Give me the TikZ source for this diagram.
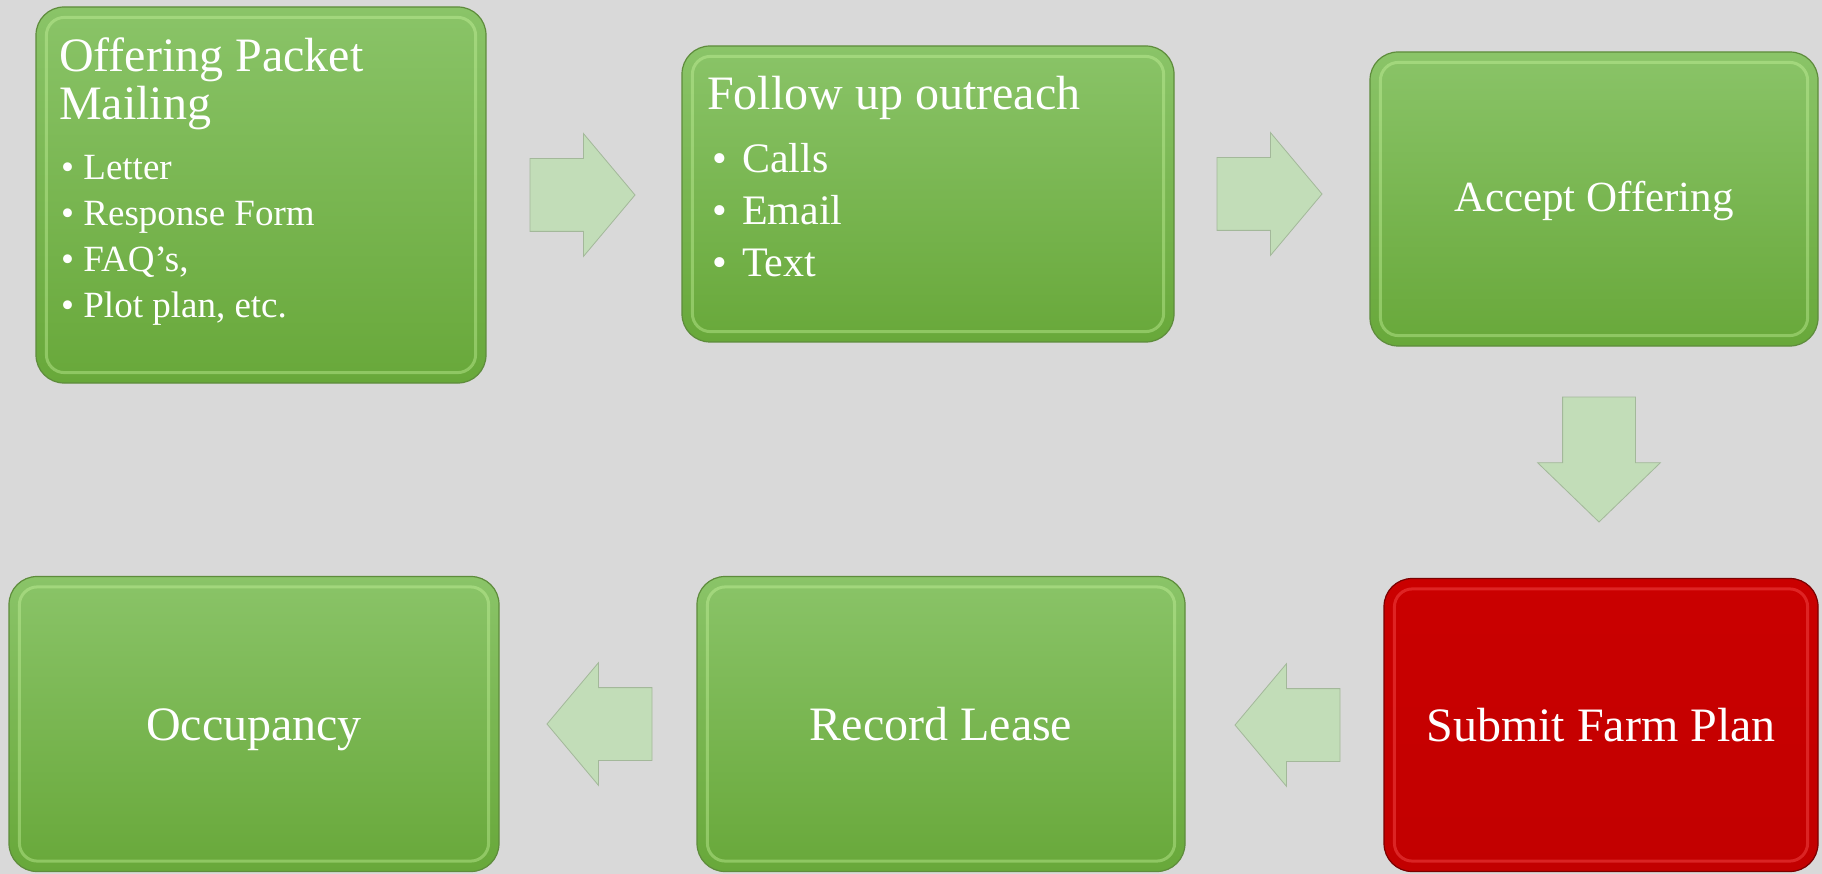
\documentclass[tikz,border=0pt]{standalone}
\usepackage{fontspec}
\setmainfont{Liberation Serif}
\usepackage{xcolor}
\usepackage{tikz}
\usetikzlibrary{calc,shapes.arrows}

\definecolor{bggray}{HTML}{D9D9D9}
\definecolor{gtop}{HTML}{8AC468}
\definecolor{gbot}{HTML}{68A83A}
\definecolor{gedge}{HTML}{5E8C3C}
\definecolor{ghi}{HTML}{C9F59F}
\definecolor{rtop}{HTML}{CA0000}
\definecolor{rbot}{HTML}{C20000}
\definecolor{redge}{HTML}{7A0000}
\definecolor{rhi}{HTML}{FF5A5A}
\definecolor{afill}{HTML}{C2DDB8}
\definecolor{aedge}{HTML}{A3B89A}

\begin{document}
\begin{tikzpicture}[x=1pt,y=-1pt,
	box/.style={rectangle,rounded corners=28pt,draw=gedge,line width=1.2pt,
		top color=gtop,bottom color=gbot,text=white,align=center,
		font=\fontsize{48}{50}\selectfont,text height=34pt,text depth=2pt},
	redstep/.style={box,draw=redge,top color=rtop,bottom color=rbot},
	bevel/.style={rounded corners=18pt,line width=3pt,draw opacity=0.4},
	flow/.style={shape=single arrow,fill=afill,draw=aedge,line width=0.8pt,
		inner xsep=0pt,inner ysep=36pt,single arrow head extend=25pt,
		single arrow tip angle=100,minimum height=105pt,anchor=tail},
	ttl/.style={text=white,font=\fontsize{48}{50}\selectfont,inner sep=0pt,anchor=base west},
	item/.style={text=white,inner sep=0pt,anchor=base west}]
	
	\fill[bggray] (0,0) rectangle (1822,874);
	\useasboundingbox (0,0) rectangle (1822,874);
	
	% top row
	\node[box,minimum width=450pt,minimum height=376pt] (mail) at (261,195) {};
	\node[box,minimum width=492pt,minimum height=296pt] (follow) at (928,194) {};
	\node[box,minimum width=448pt,minimum height=294pt,
		font=\fontsize{43}{45}\selectfont,text height=30pt,text depth=4pt] (acc) at (1594,199) {Accept Offering};
	
	% bottom row
	\node[redstep,minimum width=434pt,minimum height=293pt] (plan) at (1601,725) {Submit Farm Plan};
	\node[box,minimum width=488pt,minimum height=295pt] (lease) at (941,724) {Record Lease};
	\node[box,minimum width=490pt,minimum height=295pt] (occ) at (254,724) {Occupancy};
	
	\foreach \b/\c in {mail/ghi,follow/ghi,acc/ghi,occ/ghi,lease/ghi,plan/rhi}
	\draw[bevel,\c] ($(\b.north west)+(11,11)$) rectangle ($(\b.south east)+(-11,-11)$);
	
	% texts of the two lists
	\node[ttl] (mailA) at (59,72) {Offering Packet};
	\node[ttl] (mailB) at (59,120) {Mailing};
	\foreach \t [count=\i] in {Letter,Response Form,{FAQ’s,},{Plot plan, etc.}}
	\node[item,font=\fontsize{37}{40}\selectfont] (mail\i) at (61,{180+46*(\i-1)}) {• \t};
	
	\node[ttl] (followA) at (707,110) {Follow up outreach};
	\foreach \t [count=\i] in {Calls,Email,Text}
	\node[item,font=\fontsize{42}{44}\selectfont] (follow\i) at (712,{173+52*(\i-1)}) {\makebox[30pt][l]{•}\t};
	
	% block arrows
	\node[flow] (a1) at ($(mail.east)+(43,0)$) {};
	\node[flow] (a2) at ($(follow.east)+(42,0)$) {};
	\node[flow,shape border rotate=270,inner xsep=36pt,inner ysep=0pt,
		minimum height=125pt,single arrow tip angle=92] (a3) at ($(acc.south)+(5,50)$) {};
	\node[flow,shape border rotate=180] (a4) at ($(plan.west)+(-43,0)$) {};
	\node[flow,shape border rotate=180] (a5) at ($(lease.west)+(-44,0)$) {};
\end{tikzpicture}
\end{document}
